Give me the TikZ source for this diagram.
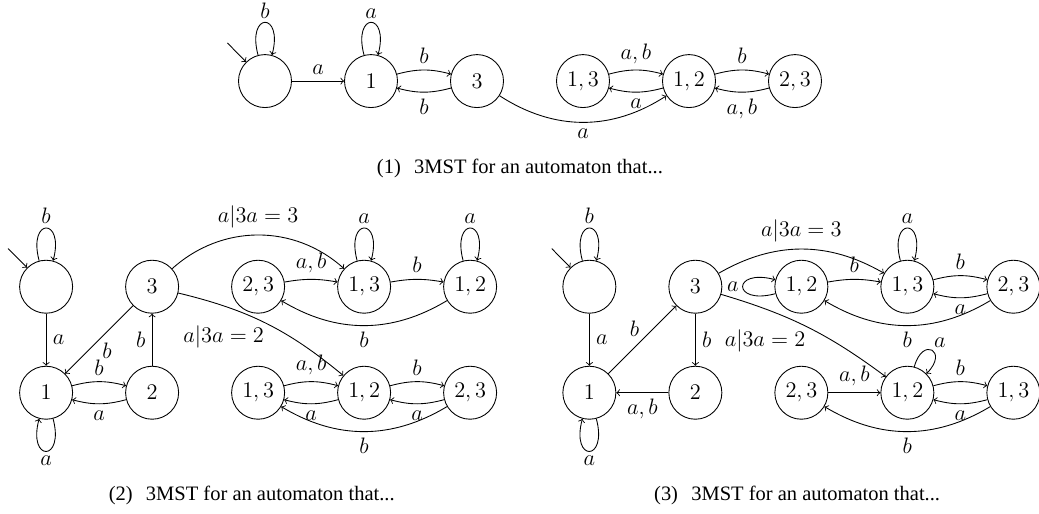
\documentclass[tikz,border=0pt]{standalone}
\usepackage{fontspec}
\newfontfamily\capfont{Liberation Serif}
\tikzset{
  st/.style={circle, draw, minimum size=1cm, inner sep=0pt},
  subcap/.style={font=\capfont\fontsize{11}{13}\selectfont, inner sep=0pt},
}
\begin{document}
\begin{tikzpicture}[>=to, line width=0.47pt, font=\fontsize{11.8}{14}\selectfont,
    every loop/.style={->, min distance=8.5mm}]
          \useasboundingbox (0,0) rectangle (19.604,-9.698);

          % (1)
          \node[st] (p1) at (5,-1.53)  {};
          \node[st] (p2) at (7,-1.53)  {$1$};
          \node[st] (p3) at (9,-1.53)  {$3$};
          \node[st] (p4) at (11,-1.53) {$1,3$};
          \node[st] (p5) at (13,-1.53) {$1,2$};
          \node[st] (p6) at (15,-1.53) {$2,3$};
          \coordinate (p1s) at (4.29,-0.81);

          \draw[->] (p1s) -- (p1);
          \draw[->] (p1) to[loop above] node[above, inner sep=2pt] {$b$} (p1);
          \draw[->] (p1) -- (p2) node[midway, above] {$a$};
          \draw[->] (p2) to[loop above] node[above, inner sep=2pt] {$a$} (p2);
          \draw[->] (p2) to[bend left=15] node[above] {$b$} (p3);
          \draw[->] (p3) to[bend left=15] node[below] {$b$} (p2);
          \draw[->] (p3) to[bend right=33] node[below] {$a$} (p5);
          \draw[->] (p4) to[bend left=15] node[above] {$a,b$} (p5);
          \draw[->] (p5) to[bend left=15] node[below] {$a$} (p4);
          \draw[->] (p5) to[bend left=15] node[above] {$b$} (p6);
          \draw[->] (p6) to[bend left=15] node[below] {$a,b$} (p5);

          \node[subcap] (c1) at (9.81,-3.17) {(1)\hspace{0.65em}3MST for an automaton that...};

          % (2)
          \node[st] (q1)  at (0.87,-5.41) {};
          \node[st] (q2)  at (2.87,-5.41) {$3$};
          \node[st] (q3)  at (4.87,-5.41) {$2,3$};
          \node[st] (q4)  at (6.87,-5.41) {$1,3$};
          \node[st] (q5)  at (8.87,-5.41) {$1,2$};
          \node[st] (q6)  at (0.87,-7.41) {$1$};
          \node[st] (q7)  at (2.87,-7.41) {$2$};
          \node[st] (q8)  at (4.87,-7.41) {$1,3$};
          \node[st] (q9)  at (6.87,-7.41) {$1,2$};
          \node[st] (q10) at (8.87,-7.41) {$2,3$};
          \coordinate (q1s) at (0.15,-4.69);

          \draw[->] (q1s) -- (q1);
          \draw[->] (q1) to[loop above] node[above, inner sep=2pt] {$b$} (q1);
          \draw[->] (q1) -- (q6) node[midway, right] {$a$};
          \draw[->] (q6) to[loop below] node[below, inner sep=2pt] {$a$} (q6);
          \draw[->] (q6) to[bend left=15] node[above] {$b$} (q7);
          \draw[->] (q7) to[bend left=15] node[below] {$a$} (q6);
          \draw[->] (q7) -- (q2) node[midway, left] {$b$};
          \draw[->] (q2) -- (q6) node[midway, below right, inner sep=1.5pt] {$b$};
          \draw[->] (q2) to[bend left=42] node[above] {$a|3a=3$} (q4);
          \draw[->] (q2) to[bend left=13] node[below left, inner sep=1pt] {$a|3a=2$} (q9);
          \draw[->] (q3) to[bend left=10] node[above] {$a,b$} (q4);
          \draw[->] (q4) to[loop above] node[above, inner sep=2pt] {$a$} (q4);
          \draw[->] (q4) to[bend left=10] node[above] {$b$} (q5);
          \draw[->] (q5) to[loop above] node[above, inner sep=2pt] {$a$} (q5);
          \draw[->] (q5) to[bend left=31] node[below] {$b$} (q3);
          \draw[->] (q8) to[bend left=15] node[above] {$a,b$} (q9);
          \draw[->] (q9) to[bend left=15] node[below] {$a$} (q8);
          \draw[->] (q9) to[bend left=15] node[above] {$b$} (q10);
          \draw[->] (q10) to[bend left=15] node[below] {$a$} (q9);
          \draw[->] (q10) to[bend left=31] node[below] {$b$} (q8);

          \node[subcap] (c2) at (4.75,-9.34) {(2)\hspace{0.65em}3MST for an automaton that...};

          % (3)
          \node[st] (r1)  at (11.12,-5.41) {};
          \node[st] (r2)  at (13.12,-5.41) {$3$};
          \node[st] (r3)  at (15.12,-5.41) {$1,2$};
          \node[st] (r4)  at (17.12,-5.41) {$1,3$};
          \node[st] (r5)  at (19.12,-5.41) {$2,3$};
          \node[st] (r6)  at (11.12,-7.41) {$1$};
          \node[st] (r7)  at (13.12,-7.41) {$2$};
          \node[st] (r8)  at (15.12,-7.41) {$2,3$};
          \node[st] (r9)  at (17.12,-7.41) {$1,2$};
          \node[st] (r10) at (19.12,-7.41) {$1,3$};
          \coordinate (r1s) at (10.41,-4.69);

          \draw[->] (r1s) -- (r1);
          \draw[->] (r1) to[loop above] node[above, inner sep=2pt] {$b$} (r1);
          \draw[->] (r1) -- (r6) node[midway, right] {$a$};
          \draw[->] (r6) to[loop below] node[below, inner sep=2pt] {$a$} (r6);
          \draw[->] (r6) -- (r2) node[midway, above left, inner sep=1.5pt] {$b$};
          \draw[->] (r2) -- (r7) node[midway, right] {$b$};
          \draw[->] (r7) -- (r6) node[midway, below] {$a,b$};
          \draw[->] (r2) to[bend left=30] node[above] {$a|3a=3$} (r4);
          \draw[->] (r2) to[bend left=10] node[below left, inner sep=1pt] {$a|3a=2$} (r9);
          \draw[->] (r3) to[loop left] node[left, inner sep=2pt] {$a$} (r3);
          \draw[->] (r3) to[bend left=10] node[above] {$b$} (r4);
          \draw[->] (r4) to[loop above] node[above, inner sep=2pt] {$a$} (r4);
          \draw[->] (r4) to[bend left=15] node[above] {$b$} (r5);
          \draw[->] (r5) to[bend left=15] node[below] {$a$} (r4);
          \draw[->] (r5) to[bend left=31] node[below] {$b$} (r3);
          \draw[->] (r8) -- (r9) node[midway, above] {$a,b$};
          \draw[->] (r9) to[loop, out=75, in=45, min distance=6mm] node[above right, inner sep=1pt] {$a$} (r9);
          \draw[->] (r9) to[bend left=15] node[above] {$b$} (r10);
          \draw[->] (r10) to[bend left=15] node[below] {$a$} (r9);
          \draw[->] (r10) to[bend left=31] node[below] {$b$} (r8);

          \node[subcap] (c3) at (15.04,-9.34) {(3)\hspace{0.65em}3MST for an automaton that...};
        \end{tikzpicture}
\end{document}
